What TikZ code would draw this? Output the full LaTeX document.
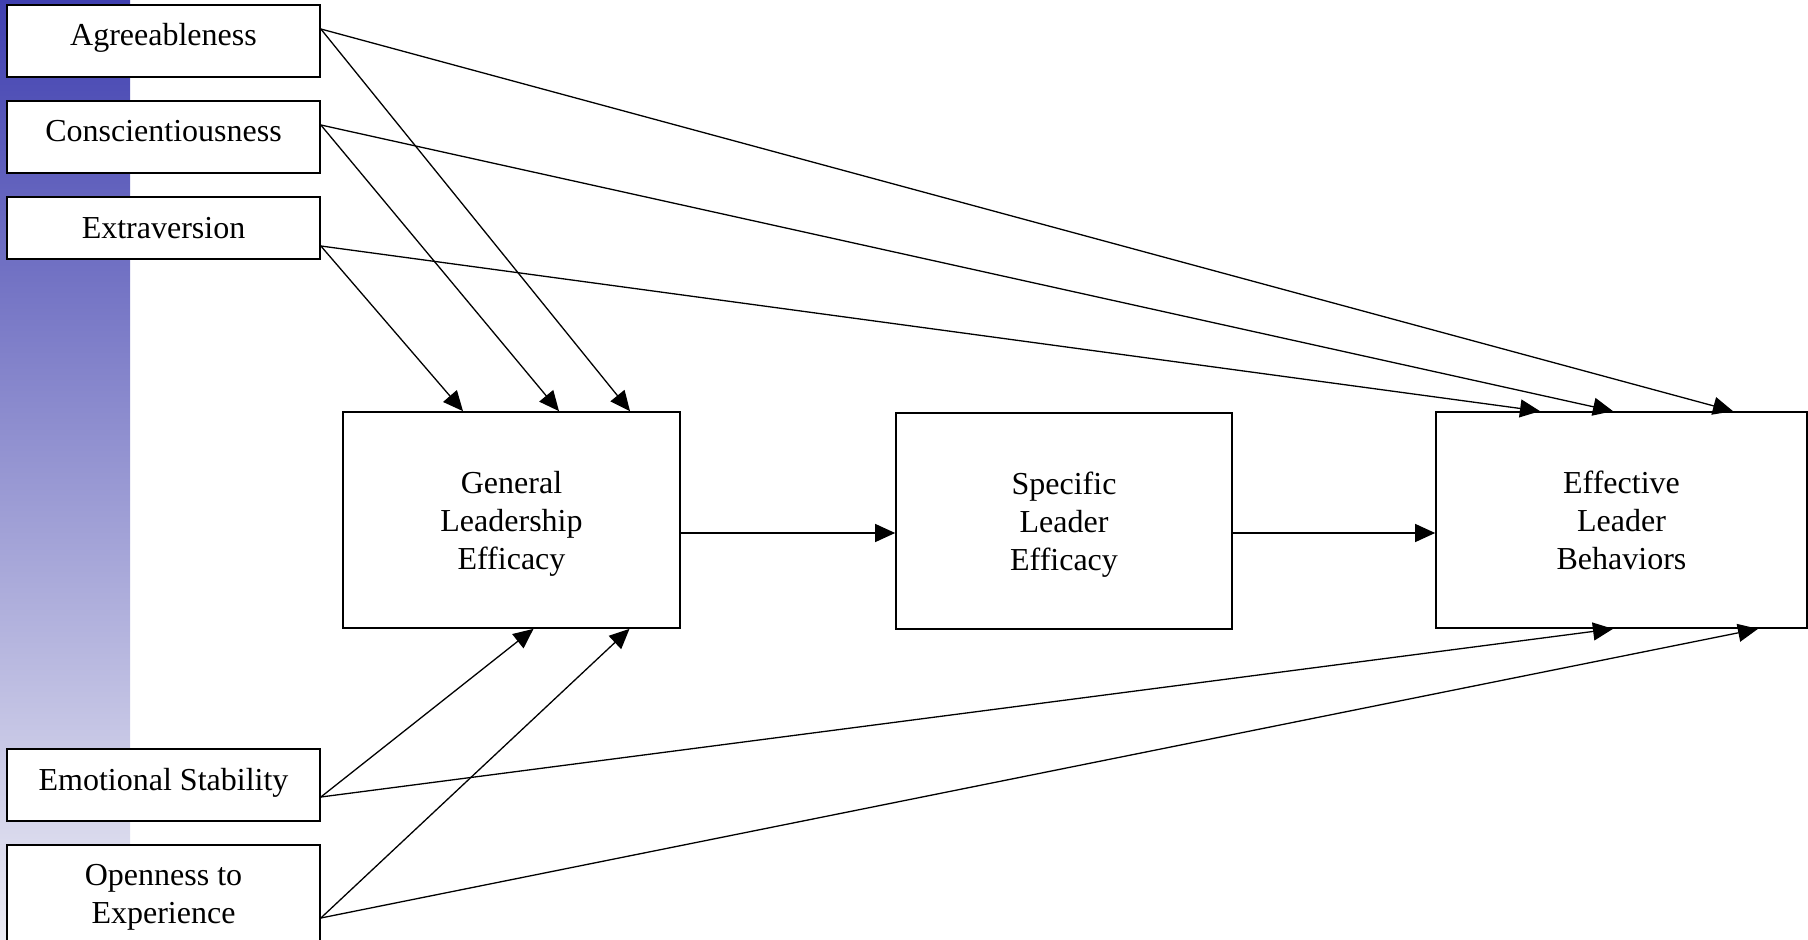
\documentclass[tikz,border=0pt]{standalone}
\usepackage{fontspec}
\setmainfont{Liberation Serif}
\usetikzlibrary{arrows.meta}
\definecolor{barTop}{RGB}{64,64,176}
\definecolor{barMid}{RGB}{170,171,210}
\definecolor{barBot}{RGB}{236,236,244}
\tikzset{
every node/.style={font=\fontsize{16pt}{19pt}\selectfont},
trait/.style={ % boxes of the five traits
draw,
fill=white,
line width=0.85pt,
inner sep=0pt,
align=center,
minimum width=156.5pt,
minimum height=36pt},
stage/.style={ % boxes of the middle row
draw,
line width=0.85pt,
inner sep=0pt,
align=center,
text depth=0pt,
minimum height=108pt},
link/.style={ % connectors
-{Triangle[length=10pt,width=9pt]},
line width=0.65pt}}

\begin{document}
\begin{tikzpicture}[x=0.5pt,y=-0.5pt]
\useasboundingbox (0,0) rectangle (1808,940);
\shade[top color=barTop, middle color=barMid, bottom color=barBot] (0,0) rectangle (130,940);
\node[trait,text height=11pt,text depth=6pt] (agr) at (163.5,41) {Agreeableness};
\node[trait,text height=11pt,text depth=6pt] (con) at (163.5,137) {Conscientiousness};
\node[trait,minimum height=31pt] (ext) at (163.5,228) {Extraversion};
\node[trait,text height=11pt,text depth=6pt] (emo) at (163.5,785) {Emotional Stability};
\node[trait,text depth=7pt,minimum height=56pt] (opn) at (163.5,901) {Openness to\\Experience};
\node[stage,minimum width=168.5pt] (gle) at (511.5,520) {General\\Leadership\\Efficacy};
\node[stage,minimum width=168pt] (sle) at (1064,521) {Specific\\Leader\\Efficacy};
\node[stage,minimum width=185.5pt] (elb) at (1621.5,520) {Effective\\Leader\\Behaviors};
% traits to general efficacy
\draw[link] ([yshift=6pt]agr.east) -- ([xshift=59.25pt]gle.north);
\draw[link] ([yshift=6pt]con.east) -- ([xshift=23.75pt]gle.north);
\draw[link] ([yshift=-9pt]ext.east) -- ([xshift=-24.25pt]gle.north);
\draw[link] ([yshift=-6pt]emo.east) -- ([xshift=11pt]gle.south);
\draw[link] ([yshift=-8.5pt]opn.east) -- ([xshift=59pt]gle.south);
% traits to behaviors
\draw[link] ([yshift=6pt]agr.east) -- ([xshift=55.75pt]elb.north);
\draw[link] ([yshift=6pt]con.east) -- ([xshift=-4.25pt]elb.north);
\draw[link] ([yshift=-9pt]ext.east) -- ([xshift=-40.75pt]elb.north);
\draw[link] ([yshift=-6pt]emo.east) -- ([xshift=-4.25pt]elb.south);
\draw[link] ([yshift=-8.5pt]opn.east) -- ([xshift=68.25pt]elb.south);
% middle row
\draw[link] ([yshift=-6.5pt]gle.east) -- ([yshift=-6pt]sle.west);
\draw[link] ([yshift=-6pt]sle.east) -- ([yshift=-6.5pt]elb.west);
\end{tikzpicture}
\end{document}
